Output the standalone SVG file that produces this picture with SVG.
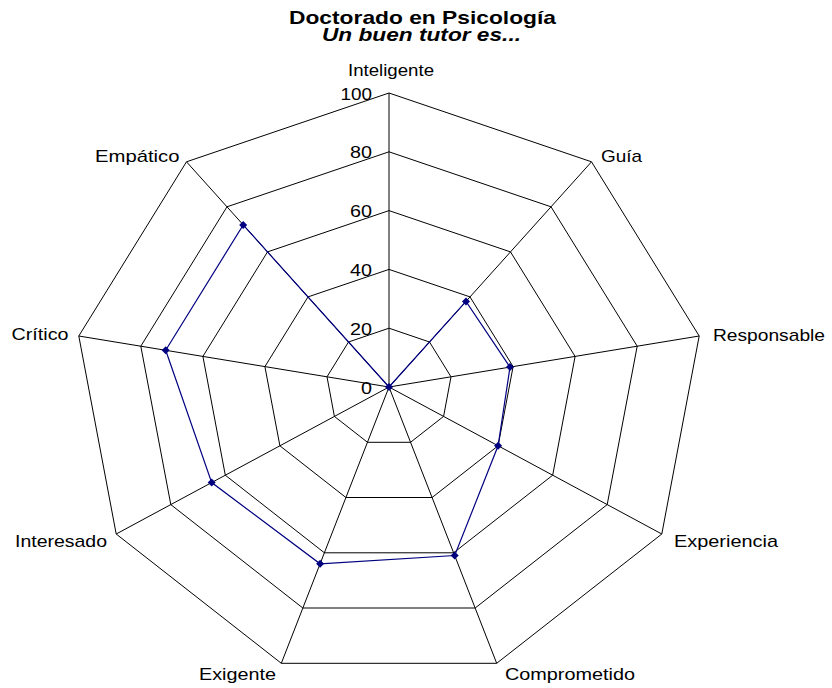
<svg xmlns="http://www.w3.org/2000/svg" width="832" height="688" viewBox="0 0 832 688">
  <style>
    text { font-family: "Liberation Sans", Arial, sans-serif; fill: #000; }
    .title { font-size: 18.5px; font-weight: bold; }
    .subtitle { font-size: 17.5px; font-weight: bold; font-style: italic; }
    .cat { font-size: 17px; }
    .tick { font-size: 17px; text-anchor: end; }
    .grid { fill: none; stroke: #000; stroke-width: 1; }
    .series { fill: none; stroke: #000080; stroke-width: 1.2; }
    .mark { fill: #000080; }
  </style>
  <defs>
    <polygon id="diamond" points="0,-4 4,0 0,4 -4,0"/>
  </defs>
  <rect width="832" height="688" fill="#fff"/>

  <!-- titles -->
  <g id="titles">
    <text class="title" x="289" y="24" textLength="267" lengthAdjust="spacingAndGlyphs">Doctorado en Psicología</text>
    <text class="subtitle" x="322" y="40.7" textLength="199" lengthAdjust="spacingAndGlyphs">Un buen tutor es...</text>
  </g>

  <!-- radar grid: rings at 20, 40, 60, 80, 100 -->
  <g id="grid" class="grid">
    <polygon points="389,328.2 429.5,342 451,376.8 443.6,416.4 410.5,442.3 367.5,442.3 334.4,416.4 327,376.8 348.5,342"/>
    <polygon points="389,269.4 470,296.9 513.1,366.6 498.1,445.8 432.1,497.5 345.9,497.5 279.9,445.8 264.9,366.6 308,296.9"/>
    <polygon points="389,210.6 510.5,251.9 575.1,356.4 552.7,475.2 453.6,552.8 324.4,552.8 225.3,475.2 202.9,356.4 267.5,251.9"/>
    <polygon points="389,151.8 551,206.8 637.2,346.2 607.2,504.6 475.2,608 302.8,608 170.8,504.6 140.8,346.2 227,206.8"/>
    <polygon points="389,93 591.5,161.8 699.2,336 661.8,534 496.7,663.3 281.3,663.3 116.2,534 78.8,336 186.5,161.8"/>
    <!-- spokes -->
    <path d="M389,387 L389,93 M389,387 L591.5,161.8 M389,387 L699.2,336 M389,387 L661.8,534 M389,387 L496.7,663.3 M389,387 L281.3,663.3 M389,387 L116.2,534 M389,387 L78.8,336 M389,387 L186.5,161.8"/>
  </g>

  <!-- value scale -->
  <g id="scale">
    <text class="tick" x="372" y="99.5" textLength="31.5" lengthAdjust="spacingAndGlyphs">100</text>
    <text class="tick" x="372" y="158.3" textLength="22" lengthAdjust="spacingAndGlyphs">80</text>
    <text class="tick" x="372" y="217.1" textLength="22" lengthAdjust="spacingAndGlyphs">60</text>
    <text class="tick" x="372" y="275.9" textLength="22" lengthAdjust="spacingAndGlyphs">40</text>
    <text class="tick" x="372" y="334.7" textLength="22" lengthAdjust="spacingAndGlyphs">20</text>
    <text class="tick" x="372" y="393.5" textLength="11" lengthAdjust="spacingAndGlyphs">0</text>
  </g>

  <!-- category labels -->
  <g id="categories">
    <text class="cat" x="348" y="76" textLength="86" lengthAdjust="spacingAndGlyphs">Inteligente</text>
    <text class="cat" x="601" y="161.7" textLength="41" lengthAdjust="spacingAndGlyphs">Guía</text>
    <text class="cat" x="713" y="340.5" textLength="112" lengthAdjust="spacingAndGlyphs">Responsable</text>
    <text class="cat" x="674" y="546.7" textLength="104" lengthAdjust="spacingAndGlyphs">Experiencia</text>
    <text class="cat" x="505" y="680" textLength="130" lengthAdjust="spacingAndGlyphs">Comprometido</text>
    <text class="cat" x="199" y="680" textLength="77" lengthAdjust="spacingAndGlyphs">Exigente</text>
    <text class="cat" x="15" y="546.7" textLength="92" lengthAdjust="spacingAndGlyphs">Interesado</text>
    <text class="cat" x="11.5" y="340" textLength="57" lengthAdjust="spacingAndGlyphs">Crítico</text>
    <text class="cat" x="95" y="162" textLength="84.5" lengthAdjust="spacingAndGlyphs">Empático</text>
  </g>

  <!-- data series -->
  <g id="series">
    <polygon class="series" points="389,387 466,301.4 510,367.1 498.1,445.8 454.7,555.5 320.1,563.8 211.7,482.6 165.7,350.3 243.2,224.9"/>
    <use href="#diamond" class="mark" x="389" y="387"/>
    <use href="#diamond" class="mark" x="466" y="301.4"/>
    <use href="#diamond" class="mark" x="510" y="367.1"/>
    <use href="#diamond" class="mark" x="498.1" y="445.8"/>
    <use href="#diamond" class="mark" x="454.7" y="555.5"/>
    <use href="#diamond" class="mark" x="320.1" y="563.8"/>
    <use href="#diamond" class="mark" x="211.7" y="482.6"/>
    <use href="#diamond" class="mark" x="165.7" y="350.3"/>
    <use href="#diamond" class="mark" x="243.2" y="224.9"/>
  </g>
</svg>
